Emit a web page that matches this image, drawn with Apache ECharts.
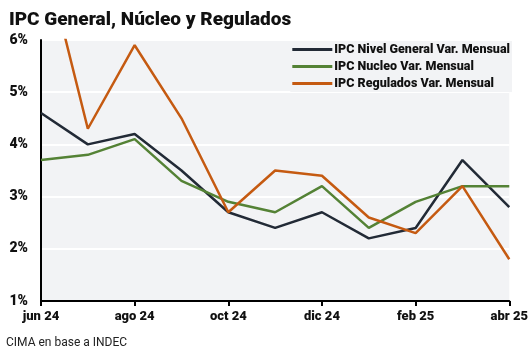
<!DOCTYPE html>
<html><head><meta charset="utf-8">
<script src="https://cdn.jsdelivr.net/npm/echarts@6/dist/echarts.min.js"></script>
<style>html,body{margin:0;padding:0;background:#fff}#c{width:531px;height:359px}</style>
</head><body><div id="c"></div>
<script>
const categories = ['jun 24','jul 24','ago 24','sep 24','oct 24','nov 24','dic 24','ene 25','feb 25','mar 25','abr 25'];
const general   = [4.6, 4.0, 4.2, 3.5, 2.7, 2.4, 2.7, 2.2, 2.4, 3.7, 2.8];
const nucleo    = [3.7, 3.8, 4.1, 3.3, 2.9, 2.7, 3.2, 2.4, 2.9, 3.2, 3.2];
const regulados = [7.9, 4.3, 5.9, 4.5, 2.7, 3.5, 3.4, 2.6, 2.3, 3.2, 1.8];
const seriesNames = ['IPC Nivel General Var. Mensual','IPC Nucleo Var. Mensual','IPC Regulados Var. Mensual'];
const colors = ['#222a36','#548235','#c55a11'];

const chart = echarts.init(document.getElementById('c'), null, {renderer:'canvas'});
const F = 'Roboto, "Liberation Sans", sans-serif';
chart.setOption({
  animation:false,
  title:{text:'IPC General, Núcleo y Regulados', left:4, top:6,
    textStyle:{fontFamily:F, fontSize:19, fontWeight:900, color:'#111'}},
  graphic:[{type:'text', left:6, top:337, style:{text:'CIMA en base a INDEC', font:'12px '+F, fill:'#222'}}],
  legend:{top:41, right:19, orient:'vertical', itemWidth:40, itemHeight:3, itemGap:4, icon:'rect',
    backgroundColor:'#f2f3f5', padding:[2,2,2,2],
    textStyle:{fontFamily:F, fontSize:12.5, fontWeight:900, color:'#111', padding:[0,0,0,-3]}},
  grid:{left:41, right:21, top:40, bottom:58, show:true, backgroundColor:'#f2f3f5', borderWidth:0},
  xAxis:{type:'category', data:categories, boundaryGap:false,
    axisLine:{lineStyle:{color:'#000', width:2}},
    axisTick:{show:true, interval:1, length:5, lineStyle:{color:'#000', width:2}},
    axisLabel:{interval:1, fontFamily:F, fontSize:13, fontWeight:900, color:'#111', margin:9},
    splitLine:{show:false}},
  yAxis:{type:'value', min:1, max:6, interval:1,
    axisLine:{show:true, lineStyle:{color:'#000', width:2}},
    axisTick:{show:false},
    axisLabel:{formatter:'{value}%', fontFamily:F, fontSize:14, fontWeight:900, color:'#111', margin:13},
    splitLine:{lineStyle:{color:'#fff', width:2}}},
  series:[
    {name:seriesNames[0], type:'line', data:general, symbol:'none', lineStyle:{width:2.5, color:colors[0]}, itemStyle:{color:colors[0]}},
    {name:seriesNames[1], type:'line', data:nucleo, symbol:'none', lineStyle:{width:2.5, color:colors[1]}, itemStyle:{color:colors[1]}},
    {name:seriesNames[2], type:'line', data:regulados, symbol:'none', clip:true, lineStyle:{width:2.5, color:colors[2]}, itemStyle:{color:colors[2]}}
  ]
});
</script></body></html>
